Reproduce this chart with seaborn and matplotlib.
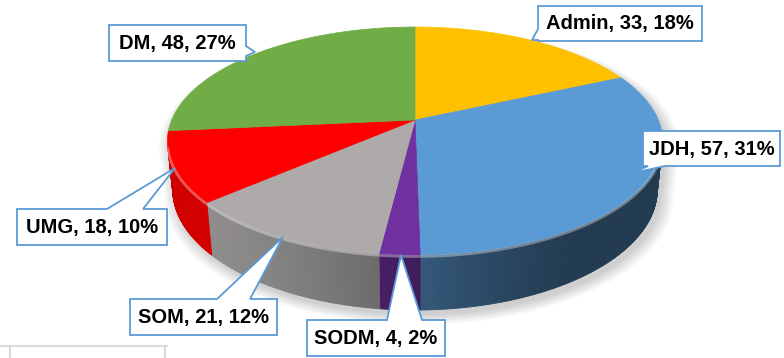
import numpy as np
import matplotlib
matplotlib.use("Agg")
import matplotlib.pyplot as plt
from matplotlib.patches import Polygon
from matplotlib.collections import PolyCollection
from matplotlib.colors import to_rgb
from scipy.spatial import ConvexHull
import seaborn as sns

# ---- data -------------------------------------------------------------
categories = ["Admin", "JDH", "SODM", "SOM", "UMG", "DM"]
counts = [33, 57, 4, 21, 18, 48]
percent_labels = ["18%", "31%", "2%", "12%", "10%", "27%"]
slice_colors = ["#FFC000", "#5B9BD5", "#7030A0", "#AEAAAA", "#FF0000", "#70AD47"]

# callout boxes (x0, y0, x1, y1), wedge base and tip, in pixel units
label_boxes = [(538, 6, 702, 41), (643, 131, 780, 166), (307, 320, 445, 356),
               (130, 299, 277, 335), (17, 209, 167, 245), (109, 25, 246, 61)]
label_edges = ["left", "bottom", "top", "top", "top", "right"]
label_bases = [((538, 40), (538, 29)), ((665, 166), (648, 166)),
               ((387, 320), (422, 320)), ((217, 299), (250, 299)),
               ((107, 209), (143, 209)), ((246, 46), (246, 56))]
label_tips = [(532, 40), (633, 173), (401, 255), (283, 237), (175, 168), (255, 52)]

sns.set_theme(style="white")
plt.rcParams["font.family"] = ["Liberation Sans", "DejaVu Sans"]

W, H = 784, 358
fig = plt.figure(figsize=(W / 100, H / 100), dpi=100)
ax = fig.add_axes([0, 0, 1, 1])
ax.set_xlim(0, W)
ax.set_ylim(H, 0)
ax.axis("off")

# ---- perspective view of a tilted disc ----------------------------------
CX, CY = 415.0, 120.0      # screen position of the pie centre
F = 243.3                  # focal scale
S = 0.4526                 # sin(elevation)
C = np.sqrt(1 - S ** 2)    # cos(elevation)
K = 0.1842                 # cos(elevation) / camera distance
L = C / K
THICK = 0.2255             # pie thickness (in radii)


def project(theta_deg, r=1.0, z=0.0):
    t = np.radians(theta_deg)
    X = r * np.sin(t)
    Y = -r * np.cos(t)
    depth = 1 - K * Y - z * S / L
    return CX + F * X / depth, CY - F * (z * C - S * Y) / depth


fractions = np.array(counts, dtype=float) / np.sum(counts)
edges = np.concatenate([[0.0], np.cumsum(fractions) * 360.0])

# soft shadow below the pie
ring = np.linspace(0, 360, 361)
bx, by = project(ring, 1.0, -THICK)
tx, ty = project(ring, 1.0, 0.0)
for grow in np.linspace(1.0, 1.05, 8):
    sx = CX + (np.concatenate([tx, bx]) - CX) * grow + 4
    sy = CY + (np.concatenate([ty, by]) - CY) * grow + 5
    pts = np.column_stack([sx, sy])
    hull = pts[ConvexHull(pts).vertices]
    ax.add_patch(Polygon(hull, closed=True, facecolor="#000000", alpha=0.025,
                         edgecolor="none", zorder=1))

# side walls: only the part facing the viewer
visible_from = np.degrees(np.arccos(-1.0 / (L * C)))
visible_to = 360.0 - visible_from


def shade(theta):
    lit = max(0.0, np.cos(np.radians(theta - 235.0))) ** 1.5
    return 0.38 + 0.45 * lit


quads, qcolors = [], []
for a0, a1, col in zip(edges[:-1], edges[1:], slice_colors):
    lo, hi = max(a0, visible_from), min(a1, visible_to)
    if hi <= lo:
        continue
    steps = np.linspace(lo, hi, max(2, int((hi - lo) / 0.5) + 1))
    base = np.array(to_rgb(col))
    for s0, s1 in zip(steps[:-1], steps[1:]):
        x0t, y0t = project(s0, 1, 0)
        x1t, y1t = project(s1, 1, 0)
        x0b, y0b = project(s0, 1, -THICK)
        x1b, y1b = project(s1, 1, -THICK)
        quads.append([(x0t, y0t), (x1t, y1t), (x1b, y1b), (x0b, y0b)])
        qcolors.append(np.clip(base * shade(0.5 * (s0 + s1)), 0, 1))
ax.add_collection(PolyCollection(quads, facecolors=qcolors, edgecolors=qcolors,
                                 linewidths=0.6, zorder=2))

# top face slices
for a0, a1, col in zip(edges[:-1], edges[1:], slice_colors):
    arc = np.linspace(a0, a1, max(2, int(a1 - a0) * 2 + 2))
    px, py = project(arc)
    pts = np.vstack([[CX, CY], np.column_stack([px, py])])
    ax.add_patch(Polygon(pts, closed=True, facecolor=col, edgecolor=col,
                         linewidth=0.5, zorder=3))

# light bevel along the front rim
arc = np.linspace(visible_from, visible_to, 300)
rx, ry = project(arc)
ax.plot(rx, ry + 1.5, color="white", alpha=0.35, lw=2.0, zorder=4,
        solid_capstyle="round")

# ---- callout labels -----------------------------------------------------
for cat, n, pct, box, edge, base, tip in zip(categories, counts, percent_labels,
                                            label_boxes, label_edges,
                                            label_bases, label_tips):
    x0, y0, x1, y1 = box
    tl, tr, br, bl = (x0, y0), (x1, y0), (x1, y1), (x0, y1)
    wedge = [base[0], tip, base[1]]
    if edge == "top":
        outline = [tl] + wedge + [tr, br, bl]
    elif edge == "right":
        outline = [tl, tr] + wedge + [br, bl]
    elif edge == "bottom":
        outline = [tl, tr, br] + wedge + [bl]
    else:
        outline = [tl, tr, br, bl] + wedge
    ax.add_patch(Polygon(outline, closed=True, facecolor="white",
                         edgecolor="#5B9BD5", linewidth=1.3, zorder=6,
                         joinstyle="miter"))
    ax.text((x0 + x1) / 2, (y0 + y1) / 2 + 0.5, f"{cat}, {n}, {pct}",
            ha="center", va="center", fontsize=14.5, fontweight="bold",
            color="black", zorder=7)

# faint sheet lines at the lower left
ax.plot([0, 167], [345.5, 345.5], color="#DADADA", lw=1.5, zorder=1)
ax.plot([10.5, 10.5], [345.5, H], color="#DADADA", lw=1.5, zorder=1)
ax.plot([165.5, 165.5], [345.5, H], color="#DADADA", lw=1.5, zorder=1)

fig.savefig("out.png", dpi=100)
